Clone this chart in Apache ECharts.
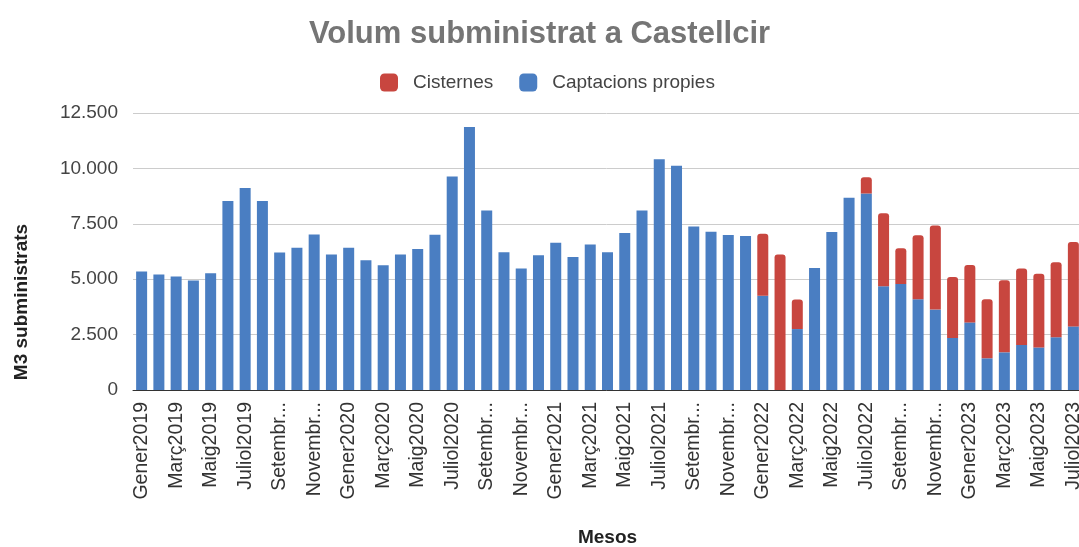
<!DOCTYPE html>
<html>
<head>
<meta charset="utf-8">
<script src="https://cdn.jsdelivr.net/npm/echarts@6/dist/echarts.min.js"></script>
<style>html,body{margin:0;padding:0;background:#fff}#c{width:1079px;height:547px}</style>
</head>
<body>
<div id="c"></div>
<script>
var months = ['Gener','Febrer','Març','Abril','Maig','Juny','Juliol','Agost','Setembre','Octubre','Novembre','Desembre'];
var years = [2019, 2020, 2021, 2022, 2023];
var categories = [];
years.forEach(function (y) { months.forEach(function (m, i) { if (y < 2023 || i < 7) categories.push(m + y); }); });

var captacions = [
  5350, 5210, 5120, 4940, 5270, 8530, 9120, 8530, 6210, 6420, 7020, 6120,
  6420, 5850, 5630, 6120, 6360, 7010, 9640, 11870, 8100, 6220, 5480, 6080,
  6650, 6000, 6570, 6220, 7080, 8100, 10410, 10120, 7380, 7140, 6990, 6950,
  4250, 0, 2750, 5500, 7130, 8680, 8870, 4680, 4780, 4100, 3630, 2350,
  3050, 1430, 1700, 2030, 1920, 2380, 2870
];
var cisternes = [
  0, 0, 0, 0, 0, 0, 0, 0, 0, 0, 0, 0,
  0, 0, 0, 0, 0, 0, 0, 0, 0, 0, 0, 0,
  0, 0, 0, 0, 0, 0, 0, 0, 0, 0, 0, 0,
  2800, 6120, 1330, 0, 0, 0, 730, 3300, 1620, 2880, 3790, 2750,
  2590, 2660, 3250, 3450, 3330, 3380, 3810
];
var yTicks = { min: 0, max: 12500, interval: 2500 };

var FONT = 'Liberation Sans, Arial, sans-serif';
var chart = echarts.init(document.getElementById('c'));
chart.setOption({
  animation: false,
  textStyle: { fontFamily: FONT },
  title: {
    text: 'Volum subministrat a Castellcir',
    left: 'center', top: 14,
    textStyle: { fontFamily: FONT, fontSize: 31, fontWeight: 'bold', color: '#757575' }
  },
  legend: {
    data: ['Cisternes', 'Captacions propies'],
    left: 375, top: 68,
    itemWidth: 18, itemHeight: 18, itemGap: 26,
    icon: 'roundRect',
    textStyle: { fontFamily: FONT, fontSize: 19, color: '#444', padding: [0, 0, 0, 10] }
  },
  grid: { left: 133, right: -3, top: 113, bottom: 157, containLabel: false, outerBoundsMode: 'none' },
  xAxis: {
    type: 'category',
    data: categories,
    name: 'Mesos',
    nameLocation: 'middle',
    nameGap: 138,
    nameTextStyle: { fontFamily: FONT, fontSize: 19, fontWeight: 'bold', color: '#222' },
    axisTick: { show: false },
    axisLine: { lineStyle: { color: '#333', width: 1 } },
    axisLabel: {
      interval: 1, rotate: 90, margin: 12,
      fontFamily: FONT, fontSize: 19.5, color: '#333',
      width: 99, overflow: 'truncate', ellipsis: '...'
    }
  },
  yAxis: {
    type: 'value',
    min: yTicks.min, max: yTicks.max, interval: yTicks.interval,
    axisLine: { show: false },
    axisTick: { show: false },
    splitLine: { lineStyle: { color: '#cccccc', width: 1 } },
    axisLabel: {
      margin: 15, fontFamily: FONT, fontSize: 19, color: '#444',
      formatter: function (v) { return v.toLocaleString('en-US').replace(/,/g, '.'); }
    }
  },
  graphic: [{
    type: 'text', x: 22, y: 302, rotation: Math.PI / 2,
    style: {
      text: 'M3 subministrats', font: 'bold 19px ' + FONT,
      fill: '#222', textAlign: 'center', textVerticalAlign: 'middle', verticalAlign: 'middle'
    }
  }],
  series: [
    {
      name: 'Captacions propies', type: 'bar', stack: 'total',
      data: captacions, barWidth: 11,
      itemStyle: { color: '#4a7ec2' }
    },
    {
      name: 'Cisternes', type: 'bar', stack: 'total',
      data: cisternes, barWidth: 11,
      itemStyle: { color: '#c8463f', borderRadius: [3, 3, 0, 0] }
    }
  ]
});
</script>
</body>
</html>
